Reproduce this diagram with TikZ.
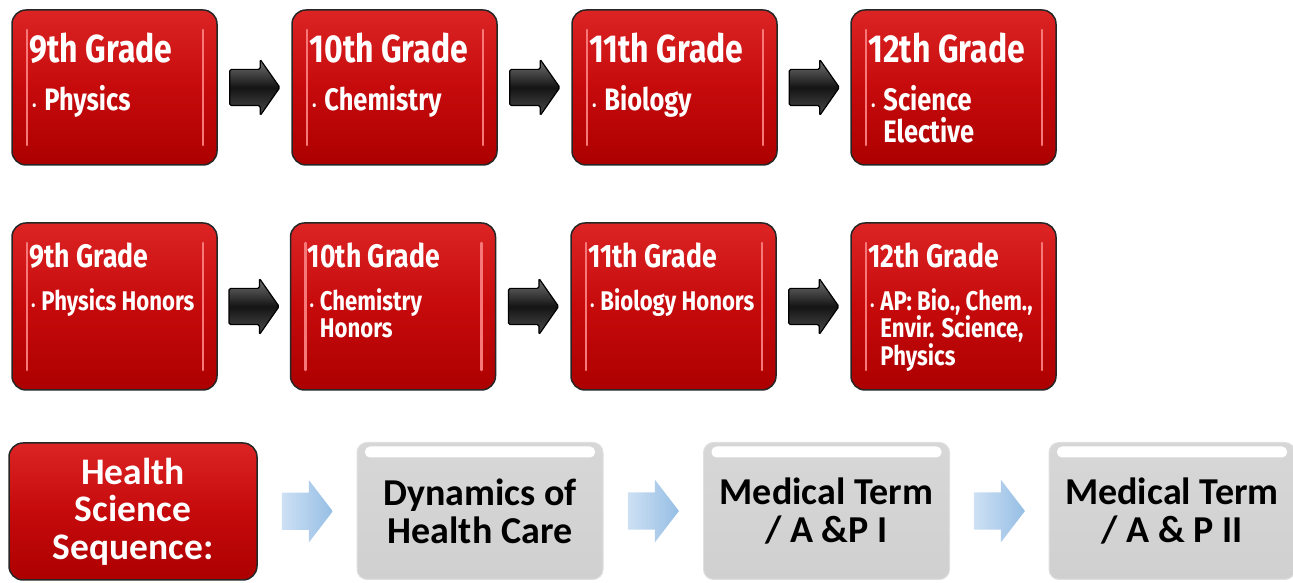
\documentclass[tikz,border=0pt]{standalone}
\usepackage{fontspec}
\setmainfont{Carlito}
\newfontfamily\gradefont[FakeStretch=0.82]{Fira Sans}
\usetikzlibrary{shapes.geometric, shapes.arrows, arrows, positioning, calc}

\definecolor{boxred}{RGB}{198,10,12}
\definecolor{boxredtop}{RGB}{220,36,36}
\definecolor{boxredbot}{RGB}{172,0,0}
\definecolor{rededge}{RGB}{246,120,120}
\definecolor{boxgrey}{RGB}{208,208,208}
\definecolor{arrowblue}{RGB}{150,190,228}
\definecolor{arrowbluelt}{RGB}{205,224,244}

% body lines hang from the first baseline, one baselineskip apart
\newcommand{\gradelines}[1]{{\let\\\cr\vtop{\halign{##\hfil\cr#1\crcr}}}}

\tikzset{
  redbox/.style={rectangle, rounded corners=14pt, draw=black!85, line width=1.5pt,
    top color=boxredtop, bottom color=boxredbot, middle color=boxred, inner sep=0pt,
    path picture={
      \draw[rededge, line width=2.5pt, line cap=round]
        ([shift={(15,-20)}]path picture bounding box.north west) -- ([shift={(15,20)}]path picture bounding box.south west)
        ([shift={(-14,-20)}]path picture bounding box.north east) -- ([shift={(-14,20)}]path picture bounding box.south east);
    }},
  greybox/.style={rectangle, rounded corners=10pt, draw=black!12, line width=1pt,
    top color=boxgrey!85, bottom color=boxgrey, inner sep=0pt, align=center,
    font=\bfseries\fontsize{38}{38}\selectfont,
    path picture={
      \fill[white, rounded corners=5pt]
        ([shift={(8,-4)}]path picture bounding box.north west) rectangle ([shift={(-8,-15)}]path picture bounding box.north east);
    }},
  bigbox/.style={redbox, minimum width=205pt, minimum height=155pt},
  midbox/.style={redbox, minimum width=205pt, minimum height=167pt},
  bigtitle/.style={anchor=base west, inner sep=0pt, text=white, font=\gradefont\bfseries\fontsize{39}{40}\selectfont},
  bigbody/.style={anchor=base west, inner sep=0pt, text=white, font=\gradefont\bfseries\fontsize{31}{32}\selectfont},
  midtitle/.style={anchor=base west, inner sep=0pt, text=white, font=\gradefont\bfseries\fontsize{32.5}{33}\selectfont},
  midbody/.style={anchor=base west, inner sep=0pt, text=white, font=\gradefont\bfseries\fontsize{27}{27.5}\selectfont},
  dot/.style={anchor=base west, inner sep=0pt, text=white, font=\gradefont\bfseries\fontsize{14}{14}\selectfont},
  darkarrow/.style={single arrow, draw=black, line width=1.2pt, rounded corners=1.5pt,
    top color=black!55, bottom color=black!70, middle color=black!92,
    minimum height=50pt, inner xsep=0pt, inner ysep=17.5pt, xshift=-6pt,
    single arrow head extend=10pt, single arrow tip angle=110},
  bluearrow/.style={single arrow, draw=none, left color=arrowbluelt, right color=arrowblue,
    minimum height=51pt, inner xsep=0pt, inner ysep=18.5pt, xshift=-7pt,
    single arrow head extend=12.5pt, single arrow tip angle=105}
}

\begin{document}
\begin{tikzpicture}[x=1pt, y=1pt]
\useasboundingbox (0,0) rectangle (1293,583);

% regular sequence
\foreach \i/\x/\gr/\txt in {1/114.5/9th/Physics, 2/394.5/10th/Chemistry,
    3/674.5/11th/Biology, 4/953.5/12th/{Science\\Elective}} {
  \node[bigbox] (top\i) at (\x,495.5) {};
  \node[bigtitle] (top\i t) at ([shift={(18,-53)}]top\i.north west) {\gr{} Grade};
  \node[dot] at ([shift={(21,-101)}]top\i.north west) {•};
  \node[bigbody] (top\i b) at ([shift={(33,-101)}]top\i.north west) {\gradelines{\txt}};
}
\foreach \i in {1,2,3} {
  \pgfmathtruncatemacro\j{\i+1}
  \node[darkarrow] (topa\i) at ($(top\i.east)!0.5!(top\j.west)$) {};
}

% honors sequence
\foreach \i/\x/\gr/\txt in {1/114.5/9th/{Physics Honors}, 2/393/10th/{Chemistry\\Honors},
    3/673.5/11th/{Biology Honors}, 4/953.5/12th/{AP: Bio., Chem.,\\Envir. Science,\\Physics}} {
  \node[midbox] (hon\i) at (\x,276.5) {};
  \node[midtitle] (hon\i t) at ([shift={(18,-45)}]hon\i.north west) {\gr{} Grade};
  \node[dot] at ([shift={(20,-88)}]hon\i.north west) {•};
  \node[midbody] (hon\i b) at ([shift={(30,-88)}]hon\i.north west) {\gradelines{\txt}};
}
\foreach \i in {1,2,3} {
  \pgfmathtruncatemacro\j{\i+1}
  \node[darkarrow] (hona\i) at ($(hon\i.east)!0.5!(hon\j.west)$) {};
}

% health science sequence
\node[redbox, minimum width=248pt, minimum height=137pt, text=white, align=center,
  font=\bfseries\fontsize{37.5}{37.5}\selectfont,
  path picture={}] (hs) at (133,71.5) {Health\\Science\\Sequence:};
\node[greybox, minimum width=246pt, minimum height=137pt] (dyn) at (480,72) {Dynamics of\\Health Care};
\node[greybox, minimum width=246pt, minimum height=137pt] (ap1) at (826.5,72) {Medical Term\\/ A \&P I};
\node[greybox, minimum width=246pt, minimum height=137pt] (ap2) at (1172,72) {Medical Term\\/ A \& P II};
\node[bluearrow] (ba1) at ($(hs.east)!0.5!(dyn.west)$) {};
\node[bluearrow] (ba2) at ($(dyn.east)!0.5!(ap1.west)$) {};
\node[bluearrow] (ba3) at ($(ap1.east)!0.5!(ap2.west)$) {};
\end{tikzpicture}
\end{document}
